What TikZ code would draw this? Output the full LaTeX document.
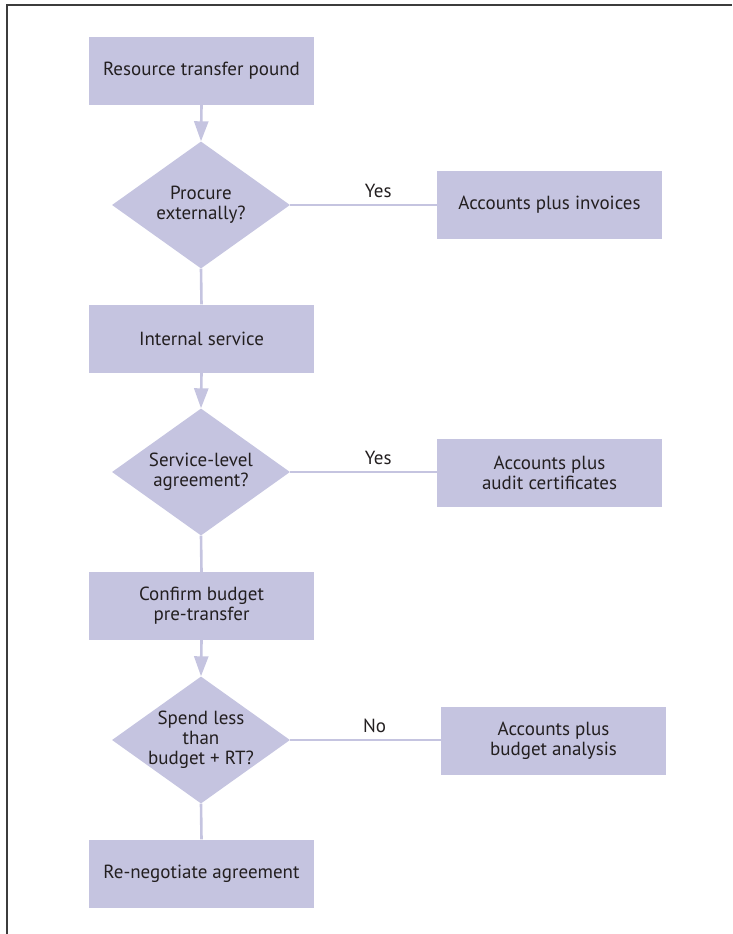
\documentclass[tikz,border=0pt]{standalone}
\usepackage{fontspec}
\setmainfont{PT Sans}
\usetikzlibrary{shapes.geometric,arrows.meta}
\definecolor{lav}{HTML}{C5C4E0}
\definecolor{txt}{HTML}{231F20}
\definecolor{frame}{HTML}{3C3C3C}
\begin{document}
\begin{tikzpicture}[x=1pt,y=-1pt,
  font=\fontsize{19}{20}\selectfont,
  every node/.style={text=txt},
  boxnode/.style={rectangle,fill=lav,minimum width=225pt,minimum height=68pt,align=center,inner sep=0pt},
  decnode/.style={diamond,fill=lav,minimum width=178pt,minimum height=127pt,aspect=1.4,align=center,inner sep=-8pt},
  conn/.style={draw=lav,line width=2.6pt},
  arr/.style={conn,-{Triangle[width=14pt,length=20pt]}},
  lbl/.style={font=\fontsize{19}{20}\selectfont}
]
\useasboundingbox (0,0) rectangle (732,934);
\draw[frame,line width=2pt] (7,934) -- (7,5) -- (732,5);

\node[boxnode] (b1) at (201.5,71) {Resource transfer pound};
\node[decnode] (d1) at (201,205) {Procure\\externally?};
\node[boxnode] (a1) at (549.5,204.5) {Accounts plus invoices};
\node[boxnode] (b2) at (201.5,338.5) {Internal service};
\node[decnode] (d2) at (201,472) {Service-level\\agreement?};
\node[boxnode] (a2) at (549.5,472.5) {Accounts plus\\audit certificates};
\node[boxnode] (b3) at (201.5,606) {Confirm budget\\pre-transfer};
\node[decnode] (d3) at (201,740) {Spend less\\than\\budget + RT?};
\node[boxnode] (a3) at (553.5,741) {Accounts plus\\budget analysis};
\node[boxnode] (b4) at (201.5,873.5) {Re-negotiate agreement};

\draw[arr] (b1.south) -- (d1.north);
\draw[arr] (b2.south) -- (d2.north);
\draw[arr] (b3.south) -- (d3.north);
\draw[conn] (d1.south) -- (b2.north);
\draw[conn] (d2.south) -- (b3.north);
\draw[conn] (d3.south) -- (b4.north);
\draw[conn] (d1.east) -- node[pos=0.6,above=3pt,lbl] (l1) {Yes} (a1.west |- d1.east);
\draw[conn] (d2.east) -- node[pos=0.6,above=3pt,lbl] (l2) {Yes} (a2.west |- d2.east);
\draw[conn] (d3.east) -- node[pos=0.56,above=3pt,lbl] (l3) {No} (a3.west |- d3.east);
\end{tikzpicture}
\end{document}
